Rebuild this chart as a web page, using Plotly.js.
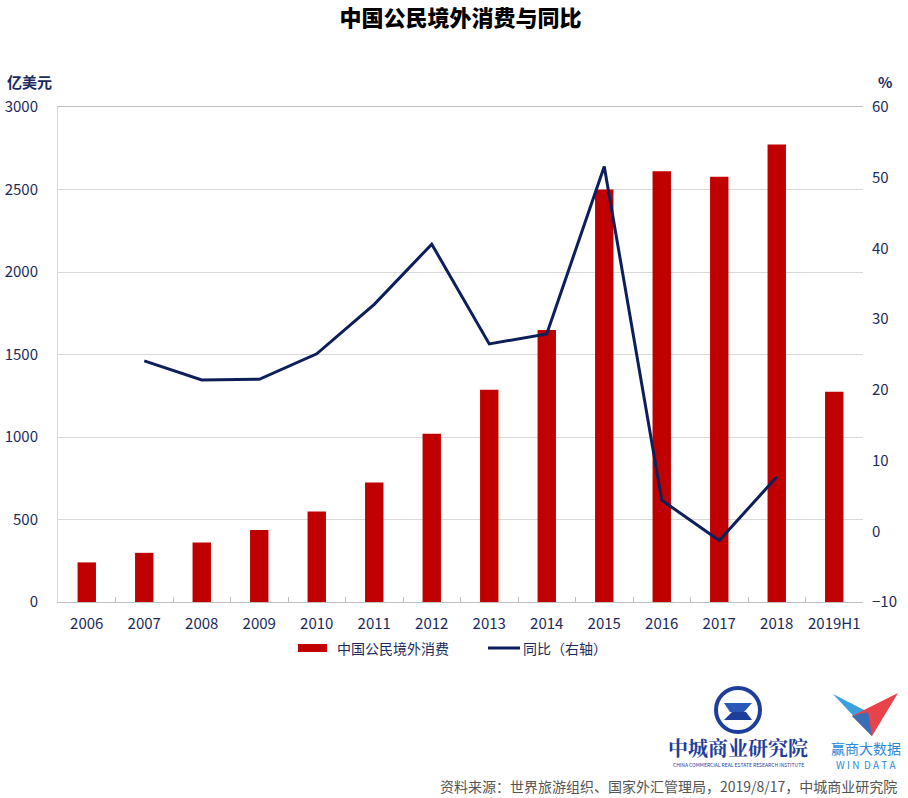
<!DOCTYPE html>
<html><head><meta charset="utf-8">
<script src="https://cdn.plot.ly/plotly-3.0.1.min.js"></script>
<style>body{margin:0;background:#fff}#c{width:908px;height:798px}</style>
</head><body><div id="c"></div>
<script>
const years = ['2006','2007','2008','2009','2010','2011','2012','2013','2014','2015','2016','2017','2018','2019H1'];
const spending = [240, 298, 360, 437, 548, 725, 1020, 1287, 1648, 2500, 2610, 2577, 2773, 1275];
const yoyYears = ['2007','2008','2009','2010','2011','2012','2013','2014','2015','2016','2017','2018'];
const yoy = [24.1, 21.4, 21.5, 25.1, 32.1, 40.6, 26.5, 27.9, 51.6, 4.4, -1.3, 7.7];
const leftTicks = [0, 500, 1000, 1500, 2000, 2500, 3000];
const rightTicks = [-10, 0, 10, 20, 30, 40, 50, 60];
const seriesNames = ['中国公民境外消费', '同比（右轴）'];

const W = 908, H = 798, L = 58, R = 863, T = 107, B = 602;
const px = x => (x - L) / (R - L);
const py = y => (B - y) / (B - T);
const path = pts => 'M' + pts.map(p => px(p[0]).toFixed(4) + ',' + py(p[1]).toFixed(4)).join(' L') + ' Z';

const navy = '#1b2a5c';
const barColor = '#c00000';
const lineColor = '#0c1f5a';
const font = '"Noto Sans CJK SC", "Noto Sans", sans-serif';

const traces = [
  {type: 'bar', name: seriesNames[0], x: years, y: spending, marker: {color: barColor}, width: 0.32, showlegend: false},
  {type: 'scatter', mode: 'lines', name: seriesNames[1], x: yoyYears, y: yoy, yaxis: 'y2',
   line: {color: lineColor, width: 3}, showlegend: false}
];

const shapes = [
  // legend keys
  {type: 'rect', xref: 'paper', yref: 'paper', x0: px(298), x1: px(327), y0: py(652), y1: py(644), fillcolor: barColor, line: {width: 0}},
  {type: 'line', xref: 'paper', yref: 'paper', x0: px(488), x1: px(520), y0: py(648), y1: py(648), line: {color: lineColor, width: 3}},
  // logo ring
  {type: 'circle', xref: 'paper', yref: 'paper', x0: px(716), x1: px(760), y0: py(732), y1: py(688),
   line: {color: '#1d3e9a', width: 4}, fillcolor: 'rgba(0,0,0,0)'},
  {type: 'path', xref: 'paper', yref: 'paper', path: path([[724,703],[752,703],[744,712],[730,712]]), fillcolor: '#2a58b8', line: {width: 0}},
  {type: 'path', xref: 'paper', yref: 'paper', path: path([[732,712],[746,712],[752,720],[724,720]]), fillcolor: '#1d3e9a', line: {width: 0}},
  // WIN DATA logo
  {type: 'path', xref: 'paper', yref: 'paper', path: path([[833,694],[868,712],[872,736]]), fillcolor: '#3aa0e0', line: {width: 0}},
  {type: 'path', xref: 'paper', yref: 'paper', path: path([[898,693],[852,716],[872,736]]), fillcolor: '#e8434a', line: {width: 0}},
  {type: 'path', xref: 'paper', yref: 'paper', path: path([[852,716],[868,712],[872,736]]), fillcolor: '#3a6fb8', line: {width: 0}}
];

const annotations = [
  {text: seriesNames[0], xref: 'paper', yref: 'paper', x: px(335), y: py(648), xanchor: 'left', yanchor: 'middle', showarrow: false,
   font: {family: font, size: 14, color: navy}},
  {text: seriesNames[1], xref: 'paper', yref: 'paper', x: px(521), y: py(648), xanchor: 'left', yanchor: 'middle', showarrow: false,
   font: {family: font, size: 14, color: navy}},
  {text: '亿美元', xref: 'paper', yref: 'paper', x: px(5), y: py(82), xanchor: 'left', yanchor: 'middle', showarrow: false,
   font: {family: font, size: 15, color: navy, weight: 'bold'}},
  {text: '%', xref: 'paper', yref: 'paper', x: px(885), y: py(82), xanchor: 'center', yanchor: 'middle', showarrow: false,
   font: {family: font, size: 15, color: navy, weight: 'bold'}},
  {text: '中城商业研究院', xref: 'paper', yref: 'paper', x: px(738), y: py(747), xanchor: 'center', yanchor: 'middle', showarrow: false,
   font: {family: '"Noto Serif CJK SC", "Noto Sans CJK SC", serif', size: 20, color: '#1d3e9a', weight: 'bold'}},
  {text: 'CHINA COMMERCIAL REAL ESTATE RESEARCH INSTITUTE', xref: 'paper', yref: 'paper', x: px(738), y: py(764), xanchor: 'center', yanchor: 'middle', showarrow: false,
   font: {family: font, size: 5, color: '#1d3e9a'}},
  {text: '赢商大数据', xref: 'paper', yref: 'paper', x: px(866), y: py(748), xanchor: 'center', yanchor: 'middle', showarrow: false,
   font: {family: font, size: 14, color: '#2a8ad8'}},
  {text: 'W I N  D A T A', xref: 'paper', yref: 'paper', x: px(866), y: py(764), xanchor: 'center', yanchor: 'middle', showarrow: false,
   font: {family: font, size: 10, color: '#2a8ad8'}},
  {text: '资料来源：世界旅游组织、国家外汇管理局，2019/8/17，中城商业研究院', xref: 'paper', yref: 'paper', x: px(899), y: py(786), xanchor: 'right', yanchor: 'middle', showarrow: false,
   font: {family: font, size: 14, color: '#555555'}}
];

const layout = {
  width: W, height: H,
  margin: {l: L, r: W - R, t: T, b: H - B, pad: 0},
  paper_bgcolor: '#ffffff', plot_bgcolor: '#ffffff',
  font: {family: font, color: navy},
  title: {text: '中国公民境外消费与同比', x: 0.5, xref: 'paper', xanchor: 'center', y: 1 - 18 / H, yanchor: 'middle',
          font: {family: font, size: 22, color: '#000000', weight: 900}},
  showlegend: false,
  xaxis: {type: 'category', categoryorder: 'array', categoryarray: years, tickfont: {size: 15, color: navy}, tickangle: 0,
          showline: true, linecolor: '#bfbfbf', linewidth: 1, mirror: true, ticks: 'inside', tickcolor: '#bfbfbf', ticklen: 5,
          tickson: 'boundaries', showgrid: false, ticklabelstandoff: 8, fixedrange: true},
  yaxis: {range: [0, 3000], tickvals: leftTicks, tickfont: {size: 15, color: navy}, showgrid: true, gridcolor: '#d9d9d9',
          showline: true, linecolor: '#d9d9d9', ticks: '', ticklabelstandoff: 16, zeroline: false, fixedrange: true},
  yaxis2: {range: [-10, 60], tickvals: rightTicks, overlaying: 'y', side: 'right', tickfont: {size: 15, color: navy},
           showgrid: false, zeroline: false, showline: false, ticks: '', ticklabelstandoff: 8, fixedrange: true},
  bargap: 0.68,
  shapes: shapes,
  annotations: annotations
};

Plotly.newPlot('c', traces, layout, {displayModeBar: false, staticPlot: true});
</script></body></html>
